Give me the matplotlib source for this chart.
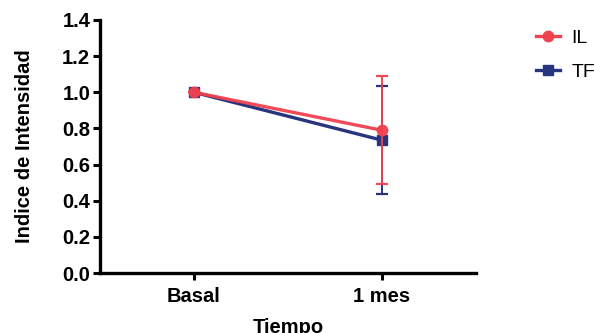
import numpy as np
import matplotlib.pyplot as plt
from matplotlib.lines import Line2D

plt.rcParams['font.family'] = ['Liberation Sans', 'DejaVu Sans']

categories = ["Basal", "1 mes"]
il_mean = [1.0, 0.79]
il_err = [0.0, 0.30]
tf_mean = [1.0, 0.735]
tf_err = [0.0, 0.30]
yticks = [0.0, 0.2, 0.4, 0.6, 0.8, 1.0, 1.2, 1.4]

RED = "#F0414E"
BLUE = "#27357F"

fig = plt.figure(figsize=(5.95, 3.33), dpi=100)
ax = fig.add_axes([0.168, 0.18, 0.632, 0.76])

x = np.arange(len(categories))
ax.errorbar(x, tf_mean, yerr=tf_err, color=BLUE, marker="s", markersize=7,
            linewidth=2.4, elinewidth=1.4, capsize=4.5, capthick=1.6, zorder=3)
ax.errorbar(x, il_mean, yerr=il_err, color=RED, marker="o", markersize=7.5,
            linewidth=2.4, elinewidth=1.4, capsize=4, capthick=1.6, zorder=4,
            alpha=0.95)

ax.set_xlim(-0.5, 1.5)
ax.set_ylim(0, 1.4)
ax.set_xticks(x)
ax.set_xticklabels(categories)
ax.set_yticks(yticks)
ax.set_yticklabels([f"{v:.1f}" for v in yticks])

for s in ["top", "right"]:
    ax.spines[s].set_visible(False)
for s in ["left", "bottom"]:
    ax.spines[s].set_linewidth(2.4)
ax.tick_params(axis="both", width=2.2, length=5, labelsize=14.5, pad=2)
ax.tick_params(axis="x", pad=5)
for lab in ax.get_xticklabels() + ax.get_yticklabels():
    lab.set_fontweight("bold")

ax.set_ylabel("Indice de Intensidad", fontsize=14.5, fontweight="bold", labelpad=20)
ax.set_xlabel("Tiempo", fontsize=14.5, fontweight="bold", labelpad=9)

handles = [Line2D([], [], color=RED, marker="o", markersize=7.5, linewidth=2.4),
           Line2D([], [], color=BLUE, marker="s", markersize=7, linewidth=2.4)]
ax.legend(handles, ["IL", "TF"], loc="upper left", bbox_to_anchor=(0.888, 0.935),
          bbox_transform=fig.transFigure, frameon=False, fontsize=14,
          handlelength=1.25, handletextpad=0.55, labelspacing=0.85, borderaxespad=0)

fig.savefig("out.png", dpi=100)
